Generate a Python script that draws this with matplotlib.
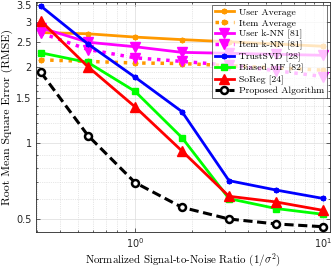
import numpy as np
import matplotlib
matplotlib.use("Agg")
import matplotlib.pyplot as plt
from matplotlib.ticker import FixedLocator, NullFormatter

plt.rcParams["mathtext.fontset"] = "cm"
plt.rcParams["axes.unicode_minus"] = False

# SNR values (1/sigma^2), log spaced
snr = [0.3162, 0.5623, 1.0, 1.778, 3.162, 5.623, 10.0]

user_avg = [2.73, 2.70, 2.62, 2.56, 2.51, 2.46, 2.41]
item_avg = [2.13, 2.10, 2.07, 2.06, 2.02, 1.98, 1.94]
user_knn = [2.85, 2.50, 2.40, 2.28, 2.26, 2.24, 2.22]
item_knn = [2.72, 2.34, 2.17, 2.10, 2.03, 1.93, 1.83]
trustsvd = [3.47, 2.46, 1.82, 1.33, 0.71, 0.652, 0.604]
biased_mf = [2.27, 2.08, 1.60, 1.05, 0.603, 0.551, 0.523]
soreg = [3.03, 2.00, 1.39, 0.93, 0.616, 0.585, 0.542]
proposed = [1.90, 1.07, 0.698, 0.557, 0.501, 0.479, 0.467]

labels = ["User Average", "Item Average", "User k-NN [81]", "Item k-NN [81]",
          "TrustSVD [28]", "Biased MF [82]", "SoReg [24]", "Proposed Algorithm"]

y_major = [0.5, 1, 1.5, 2, 2.5, 3, 3.5]
y_minor = [0.6, 0.7, 0.8, 0.9, 1.1, 1.2, 1.3, 1.4, 1.6, 1.7, 1.8, 1.9]

orange = "#ff9900"
magenta = "#ff00ff"
asterisk = (8, 2, 0)

fig = plt.figure(figsize=(3.32, 2.67), dpi=100)
ax = fig.add_axes([0.108, 0.131, 0.886, 0.861])

ax.plot(snr, user_avg, "-", color=orange, lw=2, marker=asterisk, ms=4, mew=1.2, label=labels[0])
ax.plot(snr, item_avg, ":", color=orange, lw=2.5, marker=asterisk, ms=4, mew=1.2, label=labels[1])
ax.plot(snr, user_knn, "-", color=magenta, lw=2, marker="v", ms=7, label=labels[2])
ax.plot(snr, item_knn, ":", color=magenta, lw=2.5, marker="v", ms=7, label=labels[3])
ax.plot(snr, trustsvd, "-", color="#0000ff", lw=2, marker=asterisk, ms=4, mew=1.2, label=labels[4])
ax.plot(snr, biased_mf, "-", color="#00ff00", lw=2, marker="s", ms=5, label=labels[5])
ax.plot(snr, soreg, "-", color="#ff0000", lw=2, marker="^", ms=7, label=labels[6])
ax.plot(snr, proposed, "--", color="black", lw=2.2, marker="o", ms=5, mfc="white",
        mew=1.8, dashes=(3, 1.5), label=labels[7])

ax.set_xscale("log")
ax.set_yscale("log")
ax.set_xlim(0.297, 10.9)
ax.set_ylim(0.445, 3.6)

ax.yaxis.set_major_locator(FixedLocator(y_major))
ax.yaxis.set_minor_locator(FixedLocator(y_minor))
ax.set_yticklabels([str(v) for v in y_major], fontsize=7, family="DejaVu Sans")
ax.yaxis.set_minor_formatter(NullFormatter())
ax.set_xticks([1, 10])
ax.set_xticklabels([r"$\mathregular{10^{0}}$", r"$\mathregular{10^{1}}$"], fontsize=7,
                   family="DejaVu Sans")

ax.tick_params(which="both", direction="in", top=True, right=True, colors="#262626",
               width=0.5)
ax.tick_params(which="major", length=3, pad=3)
ax.tick_params(which="minor", length=1.5)
for s in ax.spines.values():
    s.set_linewidth(0.6)
    s.set_color("#262626")

ax.grid(True, which="major", color="#dcdcdc", lw=0.5, ls="-")
ax.grid(True, which="minor", color="#d0d0d0", lw=0.5, ls=":")
ax.set_axisbelow(True)

ax.set_xlabel(r"Normalized Signal-to-Noise Ratio $(1/\sigma^2)$", family="cmr10",
              fontsize=7.9, labelpad=1)
ax.set_ylabel("Root Mean Square Error (RMSE)", family="cmr10", fontsize=8.5, labelpad=2)

leg = ax.legend(loc="upper right", prop={"family": "cmr10", "size": 7}, framealpha=0.75,
                fancybox=False, edgecolor="#262626", labelspacing=0.2, handlelength=2.0,
                borderpad=0.3, handletextpad=0.5, borderaxespad=0.3)
leg.get_frame().set_linewidth(0.6)

fig.savefig("out.png", dpi=100)
